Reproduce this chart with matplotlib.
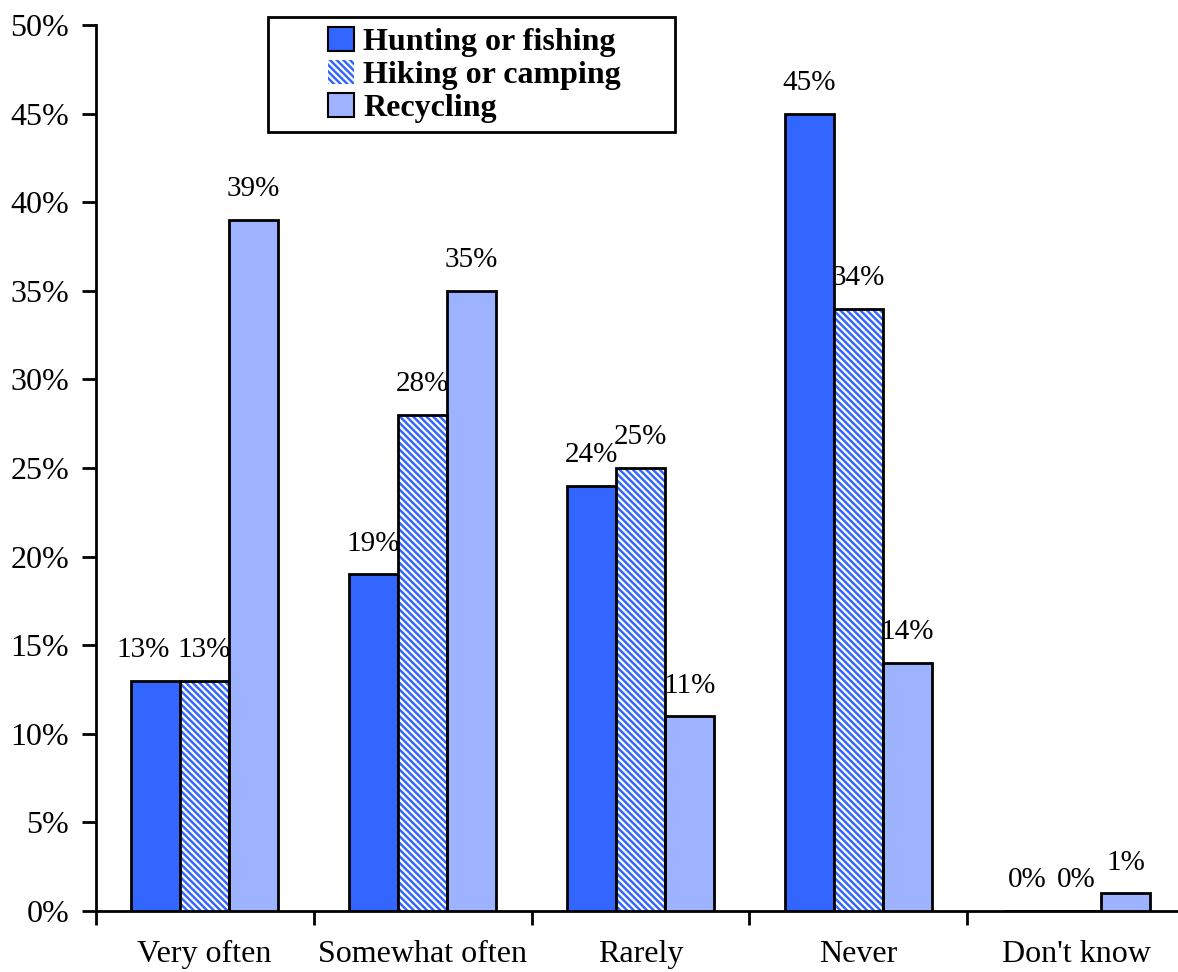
import numpy as np
import matplotlib.pyplot as plt
from matplotlib.patches import Patch, Rectangle
from matplotlib.ticker import FixedLocator

categories = ['Very often', 'Somewhat often', 'Rarely', 'Never', "Don't know"]
hunting = [13, 19, 24, 45, 0]
hiking = [13, 28, 25, 34, 0]
recycling = [39, 35, 11, 14, 1]
series_names = ['Hunting or fishing', 'Hiking or camping', 'Recycling']
yticks = [0, 5, 10, 15, 20, 25, 30, 35, 40, 45, 50]

plt.rcParams['font.family'] = ['Liberation Serif', 'DejaVu Serif']
plt.rcParams['hatch.linewidth'] = 1.6

dark = '#3366FF'
light = '#9DB3FF'

fig = plt.figure(figsize=(11.78, 9.72), dpi=100)
ax = fig.add_axes([95.5/1178, 61/972, 1090/1178, 886/972])

x = np.arange(len(categories))
w = 0.225

# hunting: solid
ax.bar(x - w, hunting, w, color=dark, edgecolor='black', linewidth=2, zorder=3)
# hiking: white stripes on blue
ax.bar(x, hiking, w, color=dark, edgecolor='white', linewidth=0, hatch='\\\\\\\\\\', zorder=3)
ax.bar(x, hiking, w, fill=False, edgecolor='black', linewidth=2, zorder=4)
# recycling: light blue
ax.bar(x + w, recycling, w, color=light, edgecolor='black', linewidth=2, zorder=3)

for k, (off, vals) in enumerate([(-w, hunting), (0, hiking), (w, recycling)]):
    for i, v in enumerate(vals):
        dx = -9 if (k == 0 and i == 0) else 0  # first label sits left, as in excel
        ax.annotate('%d%%' % v, (x[i] + off, v), xytext=(dx, 22), textcoords='offset points',
                    ha='center', va='center', fontsize=21, zorder=5)

ax.set_xlim(-0.5, len(categories) - 0.5)
ax.set_ylim(0, 50)
ax.set_yticks(yticks)
ax.set_yticklabels(['%d%%' % t for t in yticks], fontsize=23)
ax.set_xticks(x)
ax.set_xticklabels(categories, fontsize=23)
ax.xaxis.set_minor_locator(FixedLocator(np.arange(-0.5, len(categories), 1.0)))
ax.tick_params(axis='x', which='major', length=0, pad=21)
ax.tick_params(axis='x', which='minor', length=10, width=2, direction='out')
ax.tick_params(axis='y', length=10, width=2, direction='out', pad=9)

for s in ['top', 'right']:
    ax.spines[s].set_visible(False)
ax.spines['left'].set_linewidth(2)
ax.spines['bottom'].set_linewidth(2)

# legend box
fig.patches.append(Rectangle((268/1178, 1 - 132/972), (675 - 268)/1178, (132 - 17)/972,
                             transform=fig.transFigure, facecolor='white',
                             edgecolor='black', linewidth=2, zorder=5))
handles = [
    Patch(facecolor=dark, edgecolor='black', linewidth=1.5),
    Patch(facecolor=dark, edgecolor='white', hatch='\\\\\\\\\\', linewidth=0),
    Patch(facecolor=light, edgecolor='black', linewidth=1.5),
]
leg = fig.legend(handles, series_names, loc='upper left',
                 bbox_to_anchor=(328/1178, 1 - 27/972),
                 prop={'weight': 'bold', 'size': 23}, frameon=False,
                 borderpad=0, labelspacing=0.08, handlelength=0.8, handleheight=0.8,
                 handletextpad=0.3, borderaxespad=0)
leg.set_zorder(6)

fig.savefig('out.png', dpi=100)
